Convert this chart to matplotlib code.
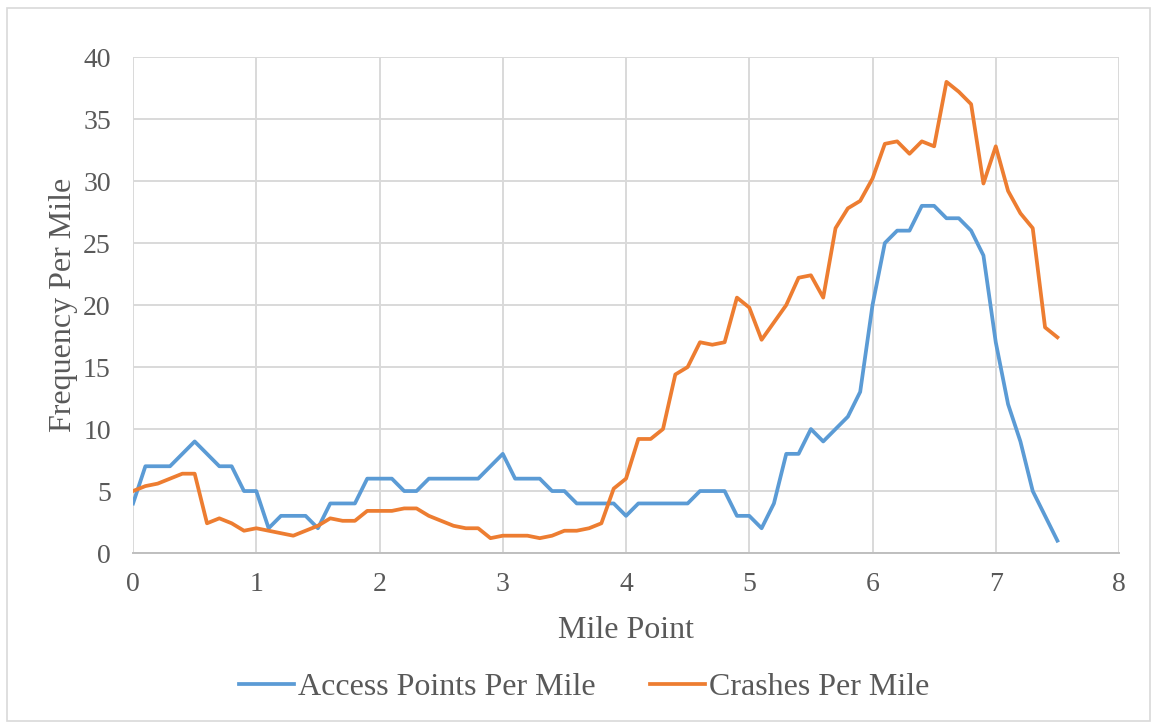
import numpy as np
import matplotlib.pyplot as plt
from matplotlib.patches import Rectangle

# -------------------------------
# Dados
# -------------------------------
mile_point = np.round(np.arange(0, 7.51, 0.1), 1)

access_points = [4, 7, 7, 7, 8, 9, 8, 7, 7, 5,
                 5, 2, 3, 3, 3, 2, 4, 4, 4, 6,
                 6, 6, 5, 5, 6, 6, 6, 6, 6, 7,
                 8, 6, 6, 6, 5, 5, 4, 4, 4, 4,
                 3, 4, 4, 4, 4, 4, 5, 5, 5, 3,
                 3, 2, 4, 8, 8, 10, 9, 10, 11, 13,
                 20, 25, 26, 26, 28, 28, 27, 27, 26, 24,
                 17, 12, 9, 5, 3, 1]

crashes = [5.0, 5.4, 5.6, 6.0, 6.4, 6.4, 2.4, 2.8, 2.4, 1.8,
           2.0, 1.8, 1.6, 1.4, 1.8, 2.2, 2.8, 2.6, 2.6, 3.4,
           3.4, 3.4, 3.6, 3.6, 3.0, 2.6, 2.2, 2.0, 2.0, 1.2,
           1.4, 1.4, 1.4, 1.2, 1.4, 1.8, 1.8, 2.0, 2.4, 5.2,
           6.0, 9.2, 9.2, 10.0, 14.4, 15.0, 17.0, 16.8, 17.0, 20.6,
           19.8, 17.2, 18.6, 20.0, 22.2, 22.4, 20.6, 26.2, 27.8, 28.4,
           30.2, 33.0, 33.2, 32.2, 33.2, 32.8, 38.0, 37.2, 36.2, 29.8,
           32.8, 29.2, 27.4, 26.2, 18.2, 17.4]

plt.rcParams['font.family'] = ['Liberation Serif', 'DejaVu Serif']
txt_color = "#595959"

fig = plt.figure(figsize=(11.51, 7.22), dpi=100)
ax = fig.add_axes([0.1156, 0.234, 0.8566, 0.687])

# borda do gráfico
fig.patches.append(Rectangle((0.006, 0.002), 0.993, 0.987, transform=fig.transFigure,
                             fill=False, edgecolor="#D9D9D9", linewidth=1.2))

ax.plot(mile_point, access_points, color="#5B9BD5", linewidth=2.7,
        label="Access Points Per Mile", solid_joinstyle="round")
ax.plot(mile_point, crashes, color="#ED7D31", linewidth=2.7,
        label="Crashes Per Mile", solid_joinstyle="round")

ax.set_xlim(0, 8)
ax.set_ylim(0, 40)
ax.set_xticks(range(0, 9))
ax.set_yticks(range(0, 41, 5))
ax.grid(True, color="#D9D9D9", linewidth=1.4)
ax.set_axisbelow(True)
for s in ["top", "right", "left"]:
    ax.spines[s].set_visible(False)
ax.spines["bottom"].set_color("#BFBFBF")
ax.spines["bottom"].set_linewidth(1.4)
ax.tick_params(length=0, labelsize=20, colors=txt_color)
ax.tick_params(axis="y", pad=16)
ax.tick_params(axis="x", pad=14)

ax.set_xlabel("Mile Point", fontsize=23, color=txt_color, labelpad=13)
ax.set_ylabel("Frequency Per Mile", fontsize=23, color=txt_color, labelpad=4)

leg = ax.legend(loc="upper center", bbox_to_anchor=(0.458, -0.184), ncol=2,
                frameon=False, fontsize=23, handlelength=1.7, columnspacing=1.7,
                handletextpad=0.15)
for t in leg.get_texts():
    t.set_color(txt_color)

fig.savefig("out.png", dpi=100)
